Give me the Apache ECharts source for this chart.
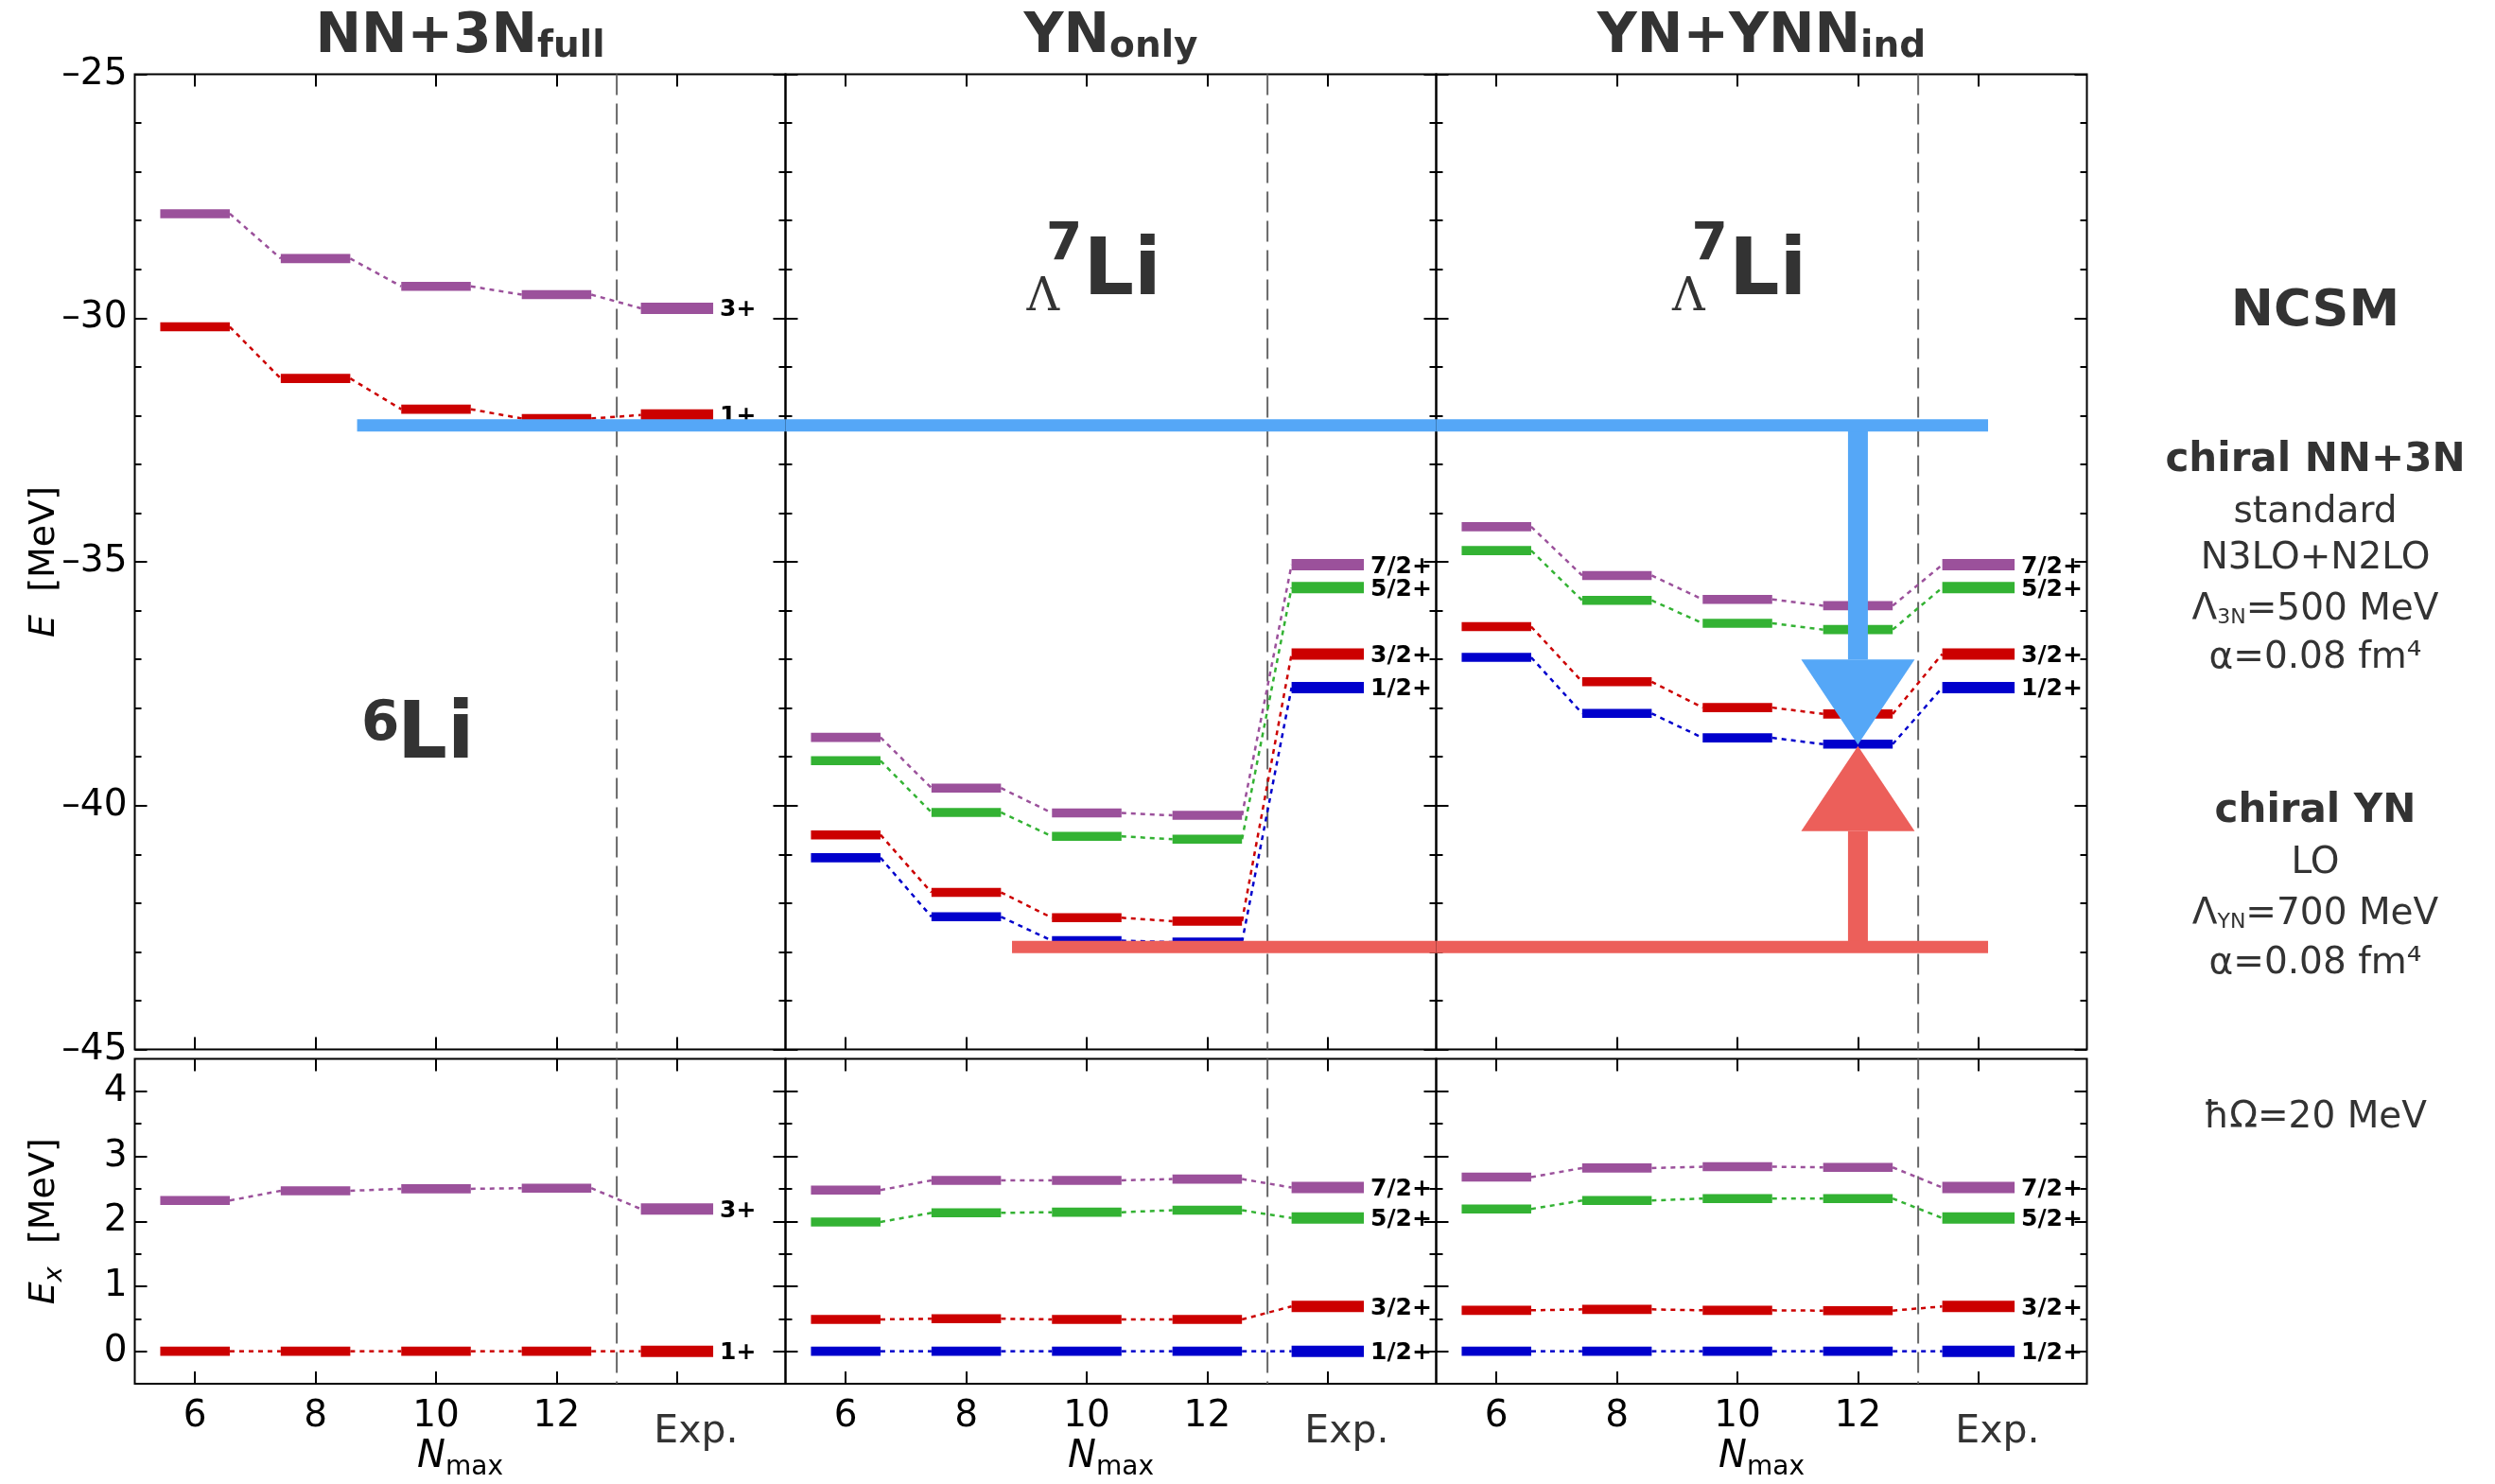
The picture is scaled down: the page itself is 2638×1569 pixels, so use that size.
<!DOCTYPE html>
<html>
<head>
<meta charset="utf-8">
<script src="https://cdn.jsdelivr.net/npm/echarts@6/dist/echarts.min.js"></script>
<style>
  html, body { margin: 0; padding: 0; background: #fff; }
  #chart { width: 2638px; height: 1569px; }
</style>
</head>
<body>
<div id="chart"></div>
<script>
// ---------------------------------------------------------------------------
// NCSM spectra of 6Li and Λ7Li: absolute energies (top) and excitation
// energies (bottom) versus N_max, compared with experiment.
// ---------------------------------------------------------------------------

// Model-space truncations and the column used for experiment
const nmaxValues = [6, 8, 10, 12];
const expColumn = 14;
const separatorX = 13;
const xTickValues = [6, 8, 10, 12, 14];

// Axis ranges and tick values
const eRange = [-45, -25];
const eMajorTicks = [-45, -40, -35, -30, -25];
const eMinorTicks = [-44, -43, -42, -41, -39, -38, -37, -36, -34, -33, -32, -31, -29, -28, -27, -26];
const exRange = [-0.5, 4.5];
const exMajorTicks = [0, 1, 2, 3, 4];
const exMinorTicks = [0.5, 1.5, 2.5, 3.5];
const xRange = [5, 15.8];

// Spin-parity labels
const li6Spins = ['3+', '1+'];
const li7Spins = ['7/2+', '5/2+', '3/2+', '1/2+'];

// 6Li with chiral NN+3N (full): absolute energies [MeV]
const li6E_3plus = [-27.86, -28.78, -29.35, -29.52];
const li6E_1plus = [-30.18, -31.24, -31.87, -32.06];
const li6Exp_E = [-29.80, -31.99];
// 6Li excitation energies [MeV]
const li6Ex_3plus = [2.32, 2.47, 2.50, 2.51];
const li6Ex_1plus = [0, 0, 0, 0];
const li6Exp_Ex = [2.19, 0];

// Λ7Li with YN only: absolute energies [MeV]
const ynOnlyE_72 = [-38.60, -39.64, -40.15, -40.20];
const ynOnlyE_52 = [-39.08, -40.14, -40.63, -40.69];
const ynOnlyE_32 = [-40.60, -41.78, -42.30, -42.37];
const ynOnlyE_12 = [-41.07, -42.28, -42.77, -42.80];
// Λ7Li with YN only: excitation energies [MeV]
const ynOnlyEx_72 = [2.48, 2.63, 2.63, 2.65];
const ynOnlyEx_52 = [1.99, 2.13, 2.14, 2.17];
const ynOnlyEx_32 = [0.49, 0.50, 0.49, 0.49];
const ynOnlyEx_12 = [0, 0, 0, 0];

// Λ7Li with YN + induced YNN: absolute energies [MeV]
const ynnIndE_72 = [-34.28, -35.28, -35.77, -35.90];
const ynnIndE_52 = [-34.77, -35.79, -36.26, -36.39];
const ynnIndE_32 = [-36.33, -37.46, -37.99, -38.12];
const ynnIndE_12 = [-36.96, -38.11, -38.61, -38.74];
// Λ7Li with YN + induced YNN: excitation energies [MeV]
const ynnIndEx_72 = [2.68, 2.82, 2.84, 2.83];
const ynnIndEx_52 = [2.19, 2.32, 2.35, 2.35];
const ynnIndEx_32 = [0.63, 0.645, 0.63, 0.625];
const ynnIndEx_12 = [0, 0, 0, 0];

// Λ7Li experiment (7/2+, 5/2+, 3/2+, 1/2+)
const li7Exp_E = [-35.06, -35.53, -36.89, -37.58];
const li7Exp_Ex = [2.52, 2.05, 0.69, 0];

// Hand-drawn guide levels and the arrows between them
const nnBandE = -32.2;          // 6Li reference level
const ynBandE = -42.9;          // YN-only Λ7Li ground state
const nnBandSpans = [[0, 8.69, 15.8], [1, 5, 15.8], [2, 5, 14.16]];  // [panel, from, to]
const ynBandSpans = [[1, 8.76, 15.8], [2, 5, 14.16]];
const arrowX = 12;
const arrowTips = [-38.75, -38.78];   // blue (down), red (up)

// ---------------------------------------------------------------------------
// Styling
// ---------------------------------------------------------------------------
const FONT = '"DejaVu Sans", "Noto Sans", sans-serif';
const SERIF = '"DejaVu Serif", serif';
const TEXT_DARK = '#333';
const C = { purple: '#9b519b', green: '#33b233', red: '#cc0000', blue: '#0000cc' };
const bandBlue = '#55a7f7';
const bandRed = '#ec5f5a';

const panelLeft = [142.5, 830.5, 1518.5];
const panelWidth = 688;
const upperTop = 78.5, upperHeight = 1031;
const lowerTop = 1119.5, lowerHeight = 343.5;

const panels = [
  {
    spins: li6Spins, colors: [C.purple, C.red],
    E: [li6E_3plus, li6E_1plus], expE: li6Exp_E,
    Ex: [li6Ex_3plus, li6Ex_1plus], expEx: li6Exp_Ex
  },
  {
    spins: li7Spins, colors: [C.purple, C.green, C.red, C.blue],
    E: [ynOnlyE_72, ynOnlyE_52, ynOnlyE_32, ynOnlyE_12], expE: li7Exp_E,
    Ex: [ynOnlyEx_72, ynOnlyEx_52, ynOnlyEx_32, ynOnlyEx_12], expEx: li7Exp_Ex
  },
  {
    spins: li7Spins, colors: [C.purple, C.green, C.red, C.blue],
    E: [ynnIndE_72, ynnIndE_52, ynnIndE_32, ynnIndE_12], expE: li7Exp_E,
    Ex: [ynnIndEx_72, ynnIndEx_52, ynnIndEx_32, ynnIndEx_12], expEx: li7Exp_Ex
  }
];

// ---------------------------------------------------------------------------
// Grids and axes
// ---------------------------------------------------------------------------
const grids = [], xAxes = [], yAxes = [];

function tickStyle(values, len) {
  return { show: true, inside: true, length: len, customValues: values,
           lineStyle: { color: '#000', width: 2 } };
}

function signLabel(v) { return v < 0 ? '\u2013' + Math.abs(v) : String(v); }

for (let row = 0; row < 2; row++) {
  for (let col = 0; col < 3; col++) {
    const g = row * 3 + col;
    grids.push({
      left: panelLeft[col], top: row ? lowerTop : upperTop,
      width: panelWidth, height: row ? lowerHeight : upperHeight,
      show: true, borderColor: '#000', borderWidth: 2,
      backgroundColor: 'transparent', containLabel: false, outerBoundsMode: 'none'
    });

    const xBase = { type: 'value', gridIndex: g, min: xRange[0], max: xRange[1],
                    axisLine: { show: false, onZero: false }, splitLine: { show: false } };
    const bottomLabels = row === 1;
    xAxes.push(Object.assign({}, xBase, {
      position: 'bottom',
      axisTick: tickStyle(xTickValues, 13),
      axisLabel: bottomLabels ? {
        show: true, customValues: xTickValues, margin: 15,
        fontFamily: FONT, fontSize: 39, color: '#000',
        formatter: v => v === expColumn ? '{e|Exp.}' : String(v),
        rich: { e: { fontFamily: FONT, fontSize: 41, color: TEXT_DARK, padding: [16, 0, 0, 40] } }
      } : { show: false },
      name: bottomLabels ? '{i|N}{s|max}' : '',
      nameLocation: 'middle', nameGap: 58, nameMoveOverlap: false,
      nameTextStyle: {
        fontFamily: FONT, fontSize: 40, color: '#000',
        rich: {
          i: { fontFamily: FONT, fontSize: 40, fontStyle: 'italic', color: '#000', padding: [0, 0, 5, 0], verticalAlign: 'bottom' },
          s: { fontFamily: FONT, fontSize: 28, color: '#000', verticalAlign: 'bottom' }
        }
      }
    }));
    xAxes.push(Object.assign({}, xBase, {
      position: 'top', axisTick: tickStyle(xTickValues, 13), axisLabel: { show: false }
    }));

    const range = row ? exRange : eRange;
    const majors = row ? exMajorTicks : eMajorTicks;
    const minors = row ? exMinorTicks : eMinorTicks;
    const yBase = { type: 'value', gridIndex: g, min: range[0], max: range[1],
                    axisLine: { show: false, onZero: false }, splitLine: { show: false } };
    const labelled = col === 0;
    const yName = row
      ? '{i|E}{s|x}{n|  [MeV]}'
      : '{i|E}{n|  [MeV]}';
    yAxes.push(Object.assign({}, yBase, {
      position: 'left', axisTick: tickStyle(majors, 13),
      axisLabel: labelled ? {
        show: true, customValues: majors, margin: 8,
        fontFamily: FONT, fontSize: 39, color: '#000', formatter: signLabel
      } : { show: false },
      name: labelled ? yName : '',
      nameLocation: 'middle', nameRotate: 90, nameGap: 71, nameMoveOverlap: false,
      nameTextStyle: {
        fontFamily: FONT, fontSize: 38, color: '#000',
        rich: {
          i: { fontFamily: FONT, fontSize: 38, fontStyle: 'italic', color: '#000', padding: [0, 0, 5, 0], verticalAlign: 'bottom' },
          s: { fontFamily: FONT, fontSize: 27, fontStyle: 'italic', color: '#000', verticalAlign: 'bottom' },
          n: { fontFamily: FONT, fontSize: 38, color: '#000', padding: [0, 0, 5, 0], verticalAlign: 'bottom' }
        }
      }
    }));
    yAxes.push(Object.assign({}, yBase, { position: 'left', axisTick: tickStyle(minors, 7), axisLabel: { show: false } }));
    yAxes.push(Object.assign({}, yBase, { position: 'right', axisTick: tickStyle(majors, 13), axisLabel: { show: false } }));
    yAxes.push(Object.assign({}, yBase, { position: 'right', axisTick: tickStyle(minors, 7), axisLabel: { show: false } }));
  }
}

// ---------------------------------------------------------------------------
// Series
// ---------------------------------------------------------------------------
const series = [];

// One energy level sequence: bars at each N_max plus experiment, joined by dotted lines
function levelSeries(xi, yi, color, values, expValue, spin) {
  const pts = nmaxValues.map((n, i) => [n, values[i]]).concat([[expColumn, expValue]]);
  const halfWidth = x => (x === expColumn ? 0.6 : 0.577);
  return {
    type: 'custom', xAxisIndex: xi, yAxisIndex: yi, z: 3, silent: true, clip: false,
    data: pts,
    renderItem(params, api) {
      const i = params.dataIndex;
      const x = api.value(0), y = api.value(1);
      const isExp = x === expColumn;
      const hw = halfWidth(x);
      const th = isExp ? 12 : 9.6;
      const a = api.coord([x - hw, y]);
      const b = api.coord([x + hw, y]);
      const children = [{
        type: 'rect',
        shape: { x: a[0], y: a[1] - th / 2, width: b[0] - a[0], height: th },
        style: { fill: color }
      }];
      if (i < pts.length - 1) {
        const nx = pts[i + 1][0], ny = pts[i + 1][1];
        const c = api.coord([nx - halfWidth(nx), ny]);
        children.push({
          type: 'line',
          shape: { x1: b[0], y1: b[1], x2: c[0], y2: c[1] },
          style: { stroke: color, lineWidth: 2.5, lineDash: [5, 5] }
        });
      }
      if (isExp) {
        children.push({
          type: 'text', x: b[0] + 7, y: b[1] + 2,
          style: { text: spin, fill: '#000', font: 'bold 25px ' + FONT, align: 'left', verticalAlign: 'middle' }
        });
      }
      return { type: 'group', children };
    }
  };
}

panels.forEach((p, col) => {
  [0, 1].forEach(row => {
    const g = row * 3 + col;
    const xi = 2 * g, yi = 4 * g;
    const range = row ? exRange : eRange;
    // dashed separator between NCSM results and experiment
    series.push({
      type: 'line', xAxisIndex: xi, yAxisIndex: yi, z: 1, silent: true,
      symbol: 'none', data: [[separatorX, range[1]], [separatorX, range[0]]],
      lineStyle: { color: '#666', width: 2, type: [22, 9] }
    });
    p.spins.forEach((spin, k) => {
      series.push(levelSeries(xi, yi, p.colors[k],
        row ? p.Ex[k] : p.E[k], row ? p.expEx[k] : p.expE[k], spin));
    });
  });
});

// Guide levels across the top panels
function bandSeries(spans, level, color) {
  spans.forEach(([col, from, to]) => {
    series.push({
      type: 'line', xAxisIndex: 2 * col, yAxisIndex: 4 * col, z: 10, silent: true, clip: false,
      symbol: 'none', data: [[from, level], [to, level]],
      lineStyle: { color: color, width: 13, cap: 'butt' }
    });
  });
}
bandSeries(nnBandSpans, nnBandE, bandBlue);
bandSeries(ynBandSpans, ynBandE, bandRed);

// Arrows from both guide levels towards the YN+YNN ground state
const arrowColors = [bandBlue, bandRed];
series.push({
  type: 'custom', xAxisIndex: 4, yAxisIndex: 8, z: 9, silent: true, clip: false,
  data: [[arrowX, nnBandE, arrowTips[0]], [arrowX, ynBandE, arrowTips[1]]],
  renderItem(params, api) {
    const x = api.value(0), from = api.value(1), tip = api.value(2);
    const p0 = api.coord([x, from]);
    const pt = api.coord([x, tip]);
    const dir = pt[1] > p0[1] ? 1 : -1;
    const headLen = 90, headHalf = 60, shaftHalf = 10.5;
    const baseY = pt[1] - dir * headLen;
    const color = arrowColors[params.dataIndex];
    return {
      type: 'group',
      children: [
        { type: 'rect',
          shape: { x: pt[0] - shaftHalf, y: Math.min(p0[1], baseY), width: 2 * shaftHalf, height: Math.abs(baseY - p0[1]) },
          style: { fill: color } },
        { type: 'polygon',
          shape: { points: [[pt[0] - headHalf, baseY], [pt[0] + headHalf, baseY], [pt[0], pt[1]]] },
          style: { fill: color } }
      ]
    };
  }
});

// ---------------------------------------------------------------------------
// Titles and annotations
// ---------------------------------------------------------------------------
function titleText(x, main, sub) {
  return {
    type: 'text', x: x, y: 40, silent: true,
    style: {
      text: '{b|' + main + '}{s|' + sub + '}',
      align: 'center', verticalAlign: 'middle',
      rich: {
        b: { fontFamily: FONT, fontWeight: 'bold', fontSize: 58, fill: TEXT_DARK, verticalAlign: 'bottom' },
        s: { fontFamily: FONT, fontWeight: 'bold', fontSize: 39, fill: TEXT_DARK, verticalAlign: 'bottom' }
      }
    }
  };
}
function plainText(x, y, text, size, weight, align, family) {
  return {
    type: 'text', x: x, y: y, silent: true,
    style: { text: text, fontFamily: family || FONT, fontSize: size, fontWeight: weight || 'normal',
             fill: TEXT_DARK, align: align || 'center', verticalAlign: 'middle' }
  };
}
function subText(x, y, pre, sub, post) {
  return {
    type: 'text', x: x, y: y, silent: true,
    style: {
      text: '{n|' + pre + '}{s|' + sub + '}{n|' + post + '}',
      align: 'center', verticalAlign: 'middle',
      rich: {
        n: { fontFamily: FONT, fontSize: 39, fill: TEXT_DARK, verticalAlign: 'bottom' },
        s: { fontFamily: FONT, fontSize: 22, fill: TEXT_DARK, verticalAlign: 'bottom' }
      }
    }
  };
}
function hyperLabel(left) {
  return [
    plainText(left, 316, '\u039B', 48, 'normal', 'left', SERIF),
    plainText(left + 20.5, 260, '7', 55, 'bold', 'left'),
    plainText(left + 60, 289, 'Li', 84, 'bold', 'left')
  ];
}

const centerX = col => panelLeft[col] + panelWidth / 2;
const sideX = 2448;
const dy = 4;   // baseline correction for the side notes

const graphics = [
  titleText(centerX(0), 'NN+3N', 'full'),
  titleText(centerX(1), 'YN', 'only'),
  titleText(centerX(2), 'YN+YNN', 'ind'),
  plainText(382, 767, '6', 58, 'bold', 'left'),
  plainText(420, 779, 'Li', 83, 'bold', 'left'),
  ...hyperLabel(1085.5),
  ...hyperLabel(1768),
  plainText(sideX, 325.5 + dy, 'NCSM', 54, 'bold'),
  plainText(sideX, 483.3 + dy, 'chiral NN+3N', 42, 'bold'),
  plainText(sideX, 538 + dy, 'standard', 39),
  plainText(sideX, 586.5 + dy, 'N3LO+N2LO', 39),
  subText(sideX, 641.2 + dy, '\u039B', '3N', '=500 MeV'),
  plainText(sideX, 692.1 + dy, '\u03B1=0.08 fm\u2074', 39),
  plainText(sideX, 854.3 + dy, 'chiral YN', 42, 'bold'),
  plainText(sideX, 909.1 + dy, 'LO', 39),
  subText(sideX, 962.7 + dy, '\u039B', 'YN', '=700 MeV'),
  plainText(sideX, 1014.4 + dy, '\u03B1=0.08 fm\u2074', 39),
  plainText(sideX, 1178.2 + dy, '\u0127\u03A9=20 MeV', 39)
];

const chart = echarts.init(document.getElementById('chart'), null, { renderer: 'canvas' });
chart.setOption({
  animation: false,
  backgroundColor: '#fff',
  grid: grids,
  xAxis: xAxes,
  yAxis: yAxes,
  series: series,
  graphic: graphics
});
</script>
</body>
</html>
